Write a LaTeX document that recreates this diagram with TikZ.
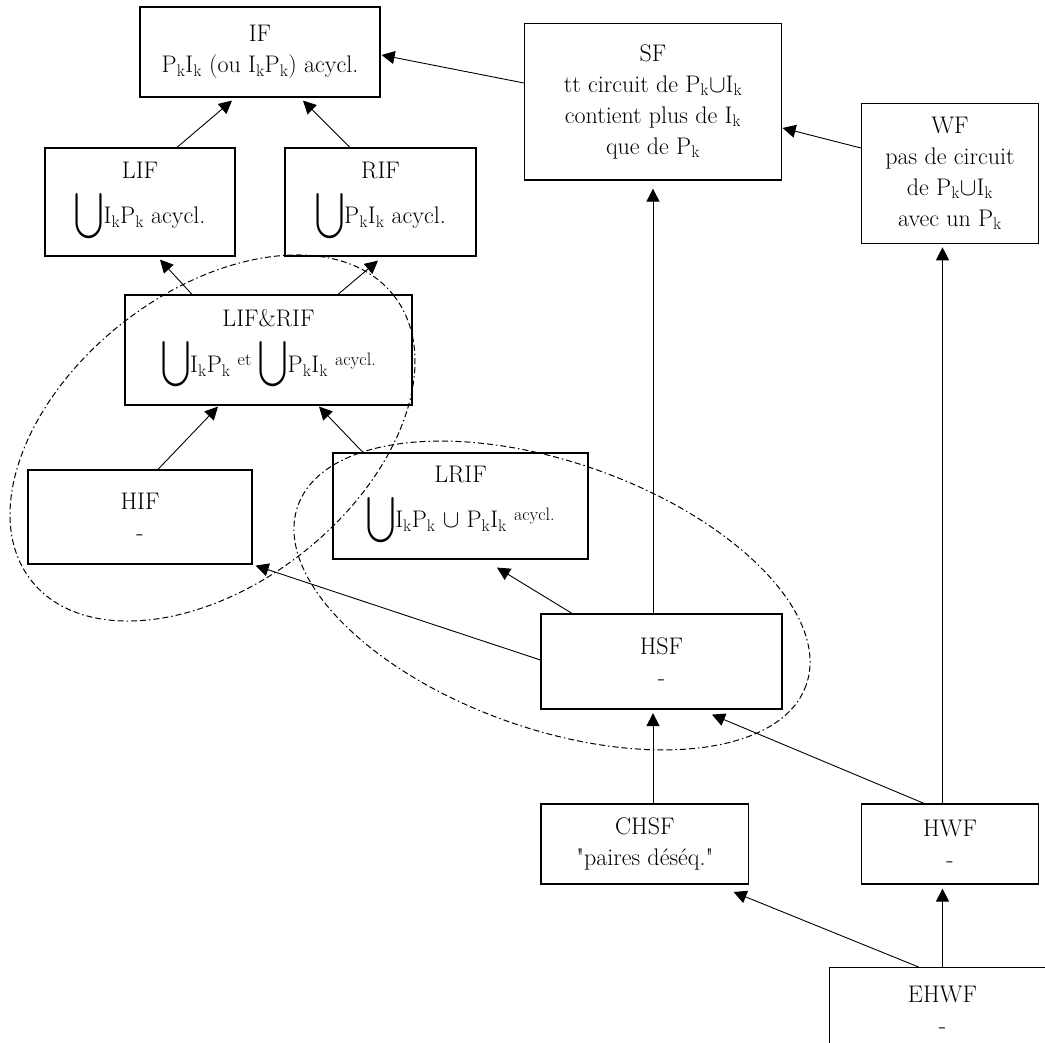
\documentclass[tikz,border=0pt]{standalone}
\usepackage{fontspec}
\usepackage{exscale}
\usepackage{graphicx}
\usepackage{tikz}
\usetikzlibrary{arrows.meta}
\newcommand{\Pk}{P\textsubscript{k}}
\newcommand{\Ik}{I\textsubscript{k}}
\newcommand{\bigU}{\scalebox{1.05}[1.3]{$\displaystyle\bigcup$}}
\newcommand{\smallup}[1]{\raisebox{7pt}{\fontsize{18}{20}\selectfont #1}}

\begin{document}
\begin{tikzpicture}[x=1pt, y=-1pt,
  box/.style ={draw, line width=1.2pt, align=center, inner sep=2pt,
               font=\fontsize{24}{31}\selectfont},
  arr/.style ={-{Triangle[length=13pt,width=13pt]}, line width=0.9pt},
  grp/.style ={dash pattern=on 6pt off 3pt on 6pt off 3pt on 1.5pt off 3pt,
               line width=1pt}
]
  \useasboundingbox (0,0) rectangle (1045,1043);
  \clip (0,0) rectangle (1045,1043);

  %% ── Top: IF, SF, WF ─────────────────────────────────────────────────────
  \node[box, minimum width=240pt, minimum height=90pt]    (if)  at (260,52)
    {IF\\\Pk\Ik{} (ou \Ik\Pk) acycl.};
  \node[box, minimum width=257pt, minimum height=156.7pt] (sf)  at (653,101.7)
    {SF\\tt circuit de \Pk$\cup$\Ik\\contient plus de \Ik\\que de \Pk};
  \node[box, minimum width=177pt, minimum height=140pt]   (wf)  at (950,173.3)
    {WF\\pas de circuit\\de \Pk$\cup$\Ik\\avec un \Pk};

  %% ── Left column: LIF, RIF, LIF&RIF, HIF, LRIF ───────────────────────────
  \node[box, minimum width=190pt, minimum height=108pt]   (lif)    at (140,202)
    {LIF\\[10pt]\bigU\Ik\Pk\ acycl.};
  \node[box, minimum width=191pt, minimum height=108pt]   (rif)    at (380.5,202)
    {RIF\\[10pt]\bigU\Pk\Ik\ acycl.};
  \node[box, minimum width=287pt, minimum height=110pt]   (lifrif) at (268.5,350)
    {LIF\&RIF\\[10pt]\bigU\Ik\Pk{} \smallup{et} \bigU\Pk\Ik{} \smallup{acycl.}};
  \node[box, minimum width=224pt, minimum height=94pt]    (hif)    at (140,517)
    {HIF\\-};
  \node[box, minimum width=255pt, minimum height=106pt]   (lrif)   at (460.5,506)
    {LRIF\\[10pt]\bigU\Ik\Pk{} $\cup$ \Pk\Ik{} \smallup{acycl.}};

  %% ── Bottom: HSF, CHSF, HWF, EHWF ────────────────────────────────────────
  \node[box, minimum width=241pt, minimum height=95pt]    (hsf)  at (661.5,661.5)
    {HSF\\-};
  \node[box, minimum width=207.5pt, minimum height=80pt]  (chsf) at (644.8,844)
    {CHSF\\\textquotedbl paires déséq.\textquotedbl};
  \node[box, minimum width=177pt, minimum height=80pt]    (hwf)  at (950,844)
    {HWF\\-};
  \node[box, minimum width=226pt, minimum height=84pt]    (ehwf) at (942.5,1009.7)
    {EHWF\\-};

  %% ── Upper arrows ────────────────────────────────────────────────────────
  \draw[arr] ([yshift=18.7pt]sf.west)   -- ([xshift=1pt,yshift=-3pt]if.east);
  \draw[arr] ([xshift=37pt]lif.north)   -- ([xshift=-28pt,yshift=-3pt]if.south);
  \draw[arr] ([xshift=-30.5pt]rif.north) -- ([xshift=43pt,yshift=-3pt]if.south);
  \draw[arr] ([yshift=25.3pt]wf.west)   -- ([xshift=0.5pt,yshift=-26.3pt]sf.east);

  %% ── Middle arrows ───────────────────────────────────────────────────────
  \draw[arr] ([xshift=-76.5pt]lifrif.north) -- ([xshift=20pt,yshift=-3pt]lif.south);
  \draw[arr] ([xshift=69.5pt]lifrif.north)  -- ([xshift=-2.5pt,yshift=-4pt]rif.south);
  \draw[arr] ([xshift=18pt]hif.north)       -- ([xshift=-50.5pt,yshift=-1pt]lifrif.south);
  \draw[arr] ([xshift=-97.5pt]lrif.north)   -- ([xshift=50.5pt,yshift=-1pt]lifrif.south);

  %% ── Arrows out of HSF ───────────────────────────────────────────────────
  \draw[arr] ([yshift=1.5pt]hsf.west)     -- ([xshift=3pt,yshift=-1pt]hif.south east);
  \draw[arr] ([xshift=-89.5pt]hsf.north)  -- ([xshift=36.5pt,yshift=-8pt]lrif.south);
  \draw[arr] ([xshift=-8.5pt]hsf.north)   -- ([xshift=0pt,yshift=-8pt]sf.south);

  %% ── Lower arrows ────────────────────────────────────────────────────────
  \draw[arr] ([xshift=8.2pt]chsf.north)   -- ([xshift=-8.5pt,yshift=-3.5pt]hsf.south);
  \draw[arr] ([xshift=-26pt]hwf.north)    -- ([xshift=50.5pt,yshift=-5pt]hsf.south);
  \draw[arr] ([xshift=-7.5pt]hwf.north)   -- ([xshift=-7.5pt,yshift=-3.4pt]wf.south);
  \draw[arr] ([xshift=-23.7pt]ehwf.north) -- ([xshift=88.8pt,yshift=-7.4pt]chsf.south);
  \draw[arr] (ehwf.north)                 -- ([xshift=-7.5pt,yshift=-4pt]hwf.south);

  %% ── Dashed groupings ────────────────────────────────────────────────────
  \draw[grp, rotate around={38.2:(212.5,438)}]
    (212.5,438) ellipse [x radius=230.6, y radius=146];
  \draw[grp, rotate around={-19.4:(552,595.5)}]
    (552,595.5) ellipse [x radius=269.5, y radius=133.4];

\end{tikzpicture}
\end{document}
